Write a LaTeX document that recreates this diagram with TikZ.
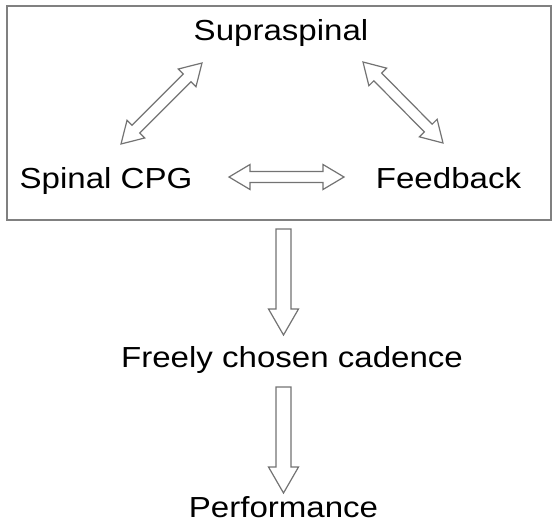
\documentclass[tikz,border=0pt]{standalone}
\usepackage{fontspec}
\newfontfamily\labelfont{Liberation Sans}[FakeStretch=1.14]
\usepackage{tikz}
\usetikzlibrary{calc}

\tikzset{
	sw/.store in=\sw, hw/.store in=\hw, hl/.store in=\hl,
	sw=5.5, hw=12.5, hl=21,
	lbl/.style={anchor=base, inner sep=0pt, font=\labelfont\fontsize{29}{34}\selectfont},
	hollow/.style={draw=black!55, line width=1.2pt, line join=miter, fill=white},
	onearrow/.style={hollow, to path={
		let \p1=(\tikztostart), \p2=(\tikztotarget),
			\n1={atan2(\y2-\y1,\x2-\x1)}, \n2={veclen(\x2-\x1,\y2-\y1)} in
		{[shift={(\p1)}, rotate=\n1]
			(0,\sw) -- (\n2-\hl,\sw) -- (\n2-\hl,\hw) -- (\n2,0)
			-- (\n2-\hl,-\hw) -- (\n2-\hl,-\sw) -- (0,-\sw) -- cycle}
		(\tikztotarget)}},
	twoarrow/.style={hollow, to path={
		let \p1=(\tikztostart), \p2=(\tikztotarget),
			\n1={atan2(\y2-\y1,\x2-\x1)}, \n2={veclen(\x2-\x1,\y2-\y1)} in
		{[shift={(\p1)}, rotate=\n1]
			(0,0) -- (\hl,\hw) -- (\hl,\sw) -- (\n2-\hl,\sw) -- (\n2-\hl,\hw) -- (\n2,0)
			-- (\n2-\hl,-\hw) -- (\n2-\hl,-\sw) -- (\hl,-\sw) -- (\hl,-\hw) -- cycle}
		(\tikztotarget)}}
}

\begin{document}
\begin{tikzpicture}[x=1pt, y=-1pt]
	\useasboundingbox (0,0) rectangle (553,530);
	\node[draw=black!50, line width=1.5pt, minimum width=544pt, minimum height=214pt] (frame) at (279,113) {};

	\node[lbl] (sup) at (281,40) {Supraspinal};
	\node[lbl] (cpg) at (106,188) {Spinal CPG};
	\node[lbl] (fb) at (448.5,188) {Feedback};
	\node[lbl] (cad) at (292,367) {Freely chosen cadence};
	\node[lbl] (perf) at (283.5,517) {Performance};

	% arrow ends
	\coordinate (l1) at (202,63);
	\coordinate (l2) at (121,144);
	\coordinate (r1) at (363,62);
	\coordinate (r2) at (443,143);
	\coordinate (h1) at (229,177);
	\coordinate (h2) at (344,177);
	\coordinate (d1) at (283.5,229);
	\coordinate (d2) at (283.5,335);
	\coordinate (d3) at (283.5,387);
	\coordinate (d4) at (283.5,493);

	\path[twoarrow]
		(l1) to (l2)
		(r1) to (r2)
		(h1) to (h2);
	\path[onearrow, sw=7.5, hw=15, hl=26]
		(d1) to (d2)
		(d3) to (d4);
\end{tikzpicture}
\end{document}
